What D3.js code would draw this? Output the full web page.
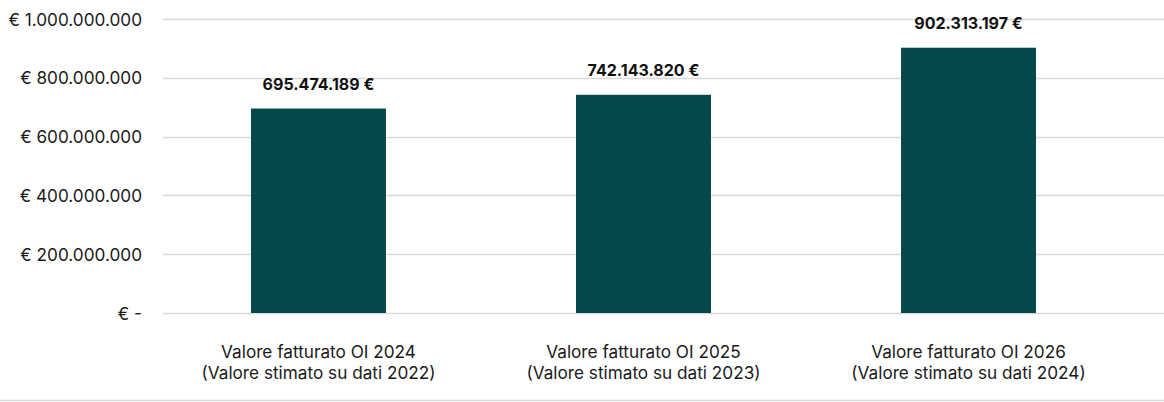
<!DOCTYPE html>
<html><head><meta charset="utf-8">
<script src="https://cdn.jsdelivr.net/npm/d3@7"></script>
<style>body{margin:0;background:#fff;} svg{display:block;}</style>
</head><body>
<svg id="c" width="1164" height="402"></svg>
<script>
const categories = [
  ["Valore fatturato OI 2024", "(Valore stimato su dati 2022)"],
  ["Valore fatturato OI 2025", "(Valore stimato su dati 2023)"],
  ["Valore fatturato OI 2026", "(Valore stimato su dati 2024)"]
];
const values = [695474189, 742143820, 902313197];
const valueLabels = ["695.474.189 €", "742.143.820 €", "902.313.197 €"];
const yTicks = [0, 200000000, 400000000, 600000000, 800000000, 1000000000];
const yTickLabels = ["€ -", "€ 200.000.000", "€ 400.000.000", "€ 600.000.000", "€ 800.000.000", "€ 1.000.000.000"];

const svg = d3.select("#c");
const y = d3.scaleLinear().domain([0, 1000000000]).range([313, 19]);
const x = d3.scaleBand().domain(d3.range(categories.length)).range([156, 1131]).paddingInner(190/325).paddingOuter(95/325);

// gridlines
svg.append("g").selectAll("line").data(yTicks).join("line")
  .attr("x1", 163).attr("x2", 1164)
  .attr("y1", d => Math.round(y(d)) + 0.5).attr("y2", d => Math.round(y(d)) + 0.5)
  .attr("stroke", "#d9d9d9").attr("stroke-width", 1.5);

// y axis labels
const yAxis = d3.axisLeft(y).tickValues(yTicks).tickSize(0).tickPadding(0)
  .tickFormat((d, i) => yTickLabels[i]);
const ya = svg.append("g").attr("transform", "translate(142,0)").call(yAxis);
ya.select(".domain").remove();
ya.selectAll("text").attr("font-family", "Inter, sans-serif").attr("font-size", 17.2)
  .attr("fill", "#1a1a1a").attr("dy", "0.35em");

// bars
svg.append("g").selectAll("rect").data(values).join("rect")
  .attr("x", (d, i) => x(i)).attr("width", x.bandwidth())
  .attr("y", d => y(d)).attr("height", d => y(0) - y(d))
  .attr("fill", "#05494a");

// value labels
svg.append("g").selectAll("text").data(values).join("text")
  .attr("x", (d, i) => x(i) + x.bandwidth() / 2)
  .attr("y", d => y(d) - 19)
  .attr("text-anchor", "middle")
  .attr("font-family", "Inter, sans-serif").attr("font-weight", 700).attr("font-size", 16)
  .attr("fill", "#111")
  .text((d, i) => valueLabels[i]);

// category labels
const cat = svg.append("g").selectAll("text").data(categories).join("text")
  .attr("text-anchor", "middle")
  .attr("font-family", "Inter, sans-serif").attr("font-size", 17.2).attr("fill", "#1a1a1a");
cat.selectAll("tspan").data((d, i) => d.map(t => ({t, i}))).join("tspan")
  .attr("x", d => x(d.i) + x.bandwidth() / 2)
  .attr("y", (d, j) => 358 + j * 21)
  .text(d => d.t);

// bottom border
svg.append("line").attr("x1", 0).attr("x2", 1164).attr("y1", 400.5).attr("y2", 400.5)
  .attr("stroke", "#d9d9d9").attr("stroke-width", 1.5);
</script>
</body></html>
